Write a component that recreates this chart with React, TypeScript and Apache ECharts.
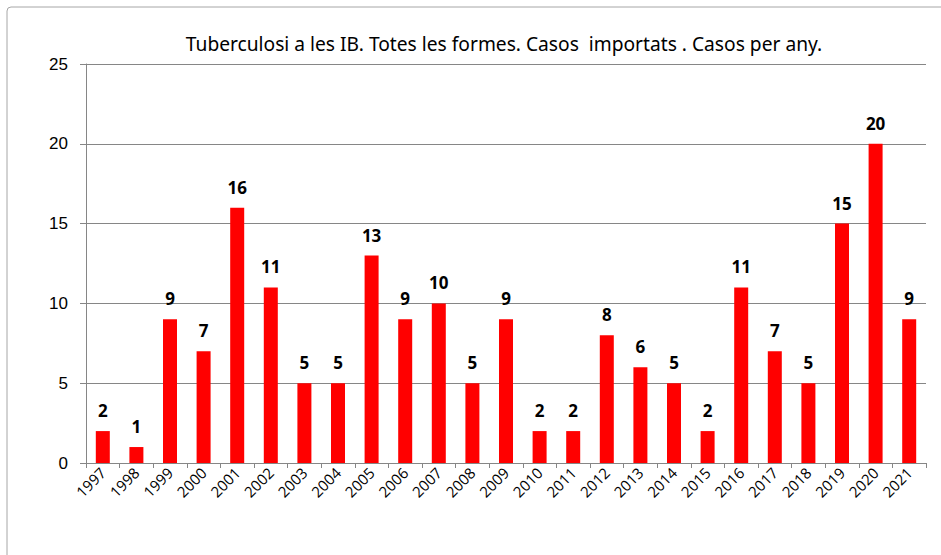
import React, { useEffect, useRef } from "react";
import * as echarts from "echarts";

const years = ["1997","1998","1999","2000","2001","2002","2003","2004","2005","2006","2007","2008","2009","2010","2011","2012","2013","2014","2015","2016","2017","2018","2019","2020","2021"];
const cases = [2,1,9,7,16,11,5,5,13,9,10,5,9,2,2,8,6,5,2,11,7,5,15,20,9];
const titleText = "Tuberculosi a les IB. Totes les formes. Casos  importats . Casos per any.";

export default function App() {
  const ref = useRef<HTMLDivElement>(null);
  useEffect(() => {
    const chart = echarts.init(ref.current!, null, { renderer: "svg" });
    chart.setOption({
      animation: false,
      backgroundColor: "#fff",
      graphic: [
        {
          type: "rect",
          shape: { x: 7, y: 7, width: 960, height: 580, r: 4 },
          style: { fill: "none", stroke: "#a6a6a6", lineWidth: 1 },
          silent: true,
        },
      ],
      title: {
        text: titleText,
        left: 499,
        textAlign: "center",
        top: 29,
        textStyle: { fontFamily: "Noto Sans", fontSize: 19.2, fontWeight: "normal", color: "#000" },
      },
      grid: { left: 86, top: 64, right: 15, bottom: 92, containLabel: false },
      xAxis: {
        type: "category",
        data: years,
        axisLine: { lineStyle: { color: "#868686" } },
        axisTick: { show: true, alignWithLabel: false, length: 5, lineStyle: { color: "#868686" } },
        axisLabel: {
          interval: 0,
          rotate: 45,
          fontFamily: "Open Sans",
          fontSize: 15,
          color: "#000",
          margin: 7,
        },
      },
      yAxis: {
        type: "value",
        min: 0,
        max: 25,
        interval: 5,
        axisLine: { show: true, lineStyle: { color: "#868686" } },
        axisTick: { show: true, length: 6, lineStyle: { color: "#868686" } },
        splitLine: { lineStyle: { color: "#868686" } },
        axisLabel: { fontFamily: "Liberation Sans", fontSize: 17, color: "#000", margin: 18 },
      },
      series: [
        {
          type: "bar",
          data: cases,
          barWidth: 14,
          itemStyle: { color: "#ff0000" },
          label: {
            show: true,
            position: "top",
            distance: 12,
            fontFamily: "Open Sans",
            fontWeight: "bold",
            fontSize: 17,
            color: "#000",
          },
        },
      ],
    });
    return () => chart.dispose();
  }, []);
  return <div ref={ref} style={{ position: "absolute", left: 0, top: 0, width: 941, height: 555 }} />;
}
